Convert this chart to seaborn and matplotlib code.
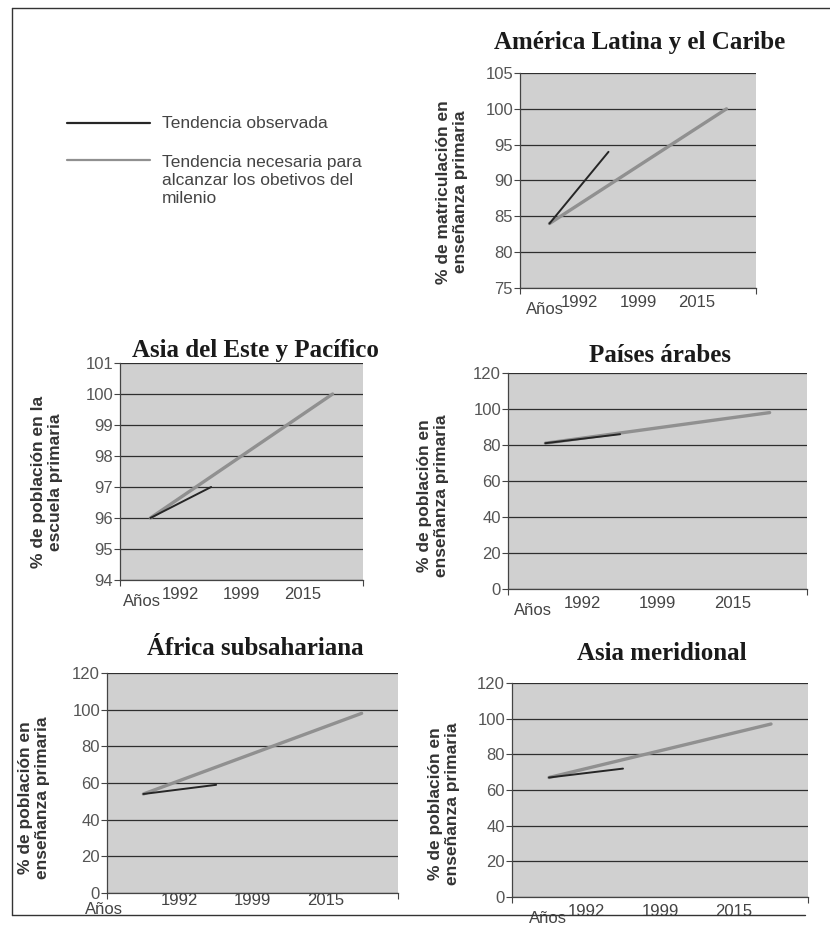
#!/usr/bin/env python3
# Tendencias de matriculación en enseñanza primaria por región
# Cinco paneles de líneas: tendencia observada vs tendencia necesaria

import pandas as pd
import matplotlib.pyplot as plt
import seaborn as sns

# ============================================================================
# DATOS
# ============================================================================
regiones = ["América Latina y el Caribe", "Asia del Este y Pacífico",
            "Países árabes", "África subsahariana", "Asia meridional"]
etiquetas_y = ["% de matriculación en\nenseñanza primaria",
               "% de población en la\nescuela primaria",
               "% de población en\nenseñanza primaria",
               "% de población en\nenseñanza primaria",
               "% de población en\nenseñanza primaria"]
etiquetas_x = ["Años", "1992", "1999", "2015"]

# posiciones de categoría (0 = primera categoría del eje)
x_observada = [0, 1]
x_necesaria = [0, 3]

observada = [[84, 94], [96, 97], [81, 86], [54, 59], [67, 72]]
necesaria = [[84, 100], [96, 100], [81, 98], [54, 98], [67, 97]]

y_min = [75, 94, 0, 0, 0]
y_max = [105, 101, 120, 120, 120]
y_paso = [5, 1, 20, 20, 20]

# ============================================================================
# ESTILO
# ============================================================================
sns.set_theme(style="white")
plt.rcParams['font.family'] = ['Liberation Sans', 'DejaVu Sans']

W, H = 830, 947
fondo = '#d0d0d0'
c_obs = '#262626'
c_nec = '#909090'

# rectángulos de los ejes en píxeles: izquierda, arriba, derecha, abajo
rects = [(520, 73, 756, 288), (120, 363, 363, 580), (508, 373, 807, 589),
         (107, 673, 398, 893), (512, 683, 808, 897)]
titulo_xy = [(640, 43), (255, 350), (660, 355), (255, 648), (662, 653)]
ylab_xy = [(452, 192), (47, 482), (433, 496), (34, 798), (444, 804)]
anos_x = [-0.08, -0.14, -0.17, -0.54, -0.02]

fig = plt.figure(figsize=(W / 100, H / 100), dpi=100)

# marco de la página
marco = dict(color='#333333', lw=1.0, transform=fig.transFigure)
fig.add_artist(plt.Line2D([12 / W, 830 / W], [1 - 8 / H, 1 - 8 / H], **marco))
fig.add_artist(plt.Line2D([12 / W, 12 / W], [1 - 8 / H, 1 - 915 / H], **marco))
fig.add_artist(plt.Line2D([12 / W, 805 / W], [1 - 915 / H, 1 - 915 / H], **marco))

for i, region in enumerate(regiones):
    l, t, r, b = rects[i]
    ax = fig.add_axes([l / W, 1 - b / H, (r - l) / W, (b - t) / H])
    ax.set_facecolor(fondo)

    df_nec = pd.DataFrame({'x': x_necesaria, 'y': necesaria[i]})
    df_obs = pd.DataFrame({'x': x_observada, 'y': observada[i]})
    sns.lineplot(data=df_nec, x='x', y='y', color=c_nec, lw=2.4, ax=ax, zorder=3)
    sns.lineplot(data=df_obs, x='x', y='y', color=c_obs, lw=1.4, ax=ax, zorder=4)

    ax.set_xlim(-0.5, 3.5)
    ax.set_ylim(y_min[i], y_max[i])
    ticks_y = list(range(y_min[i], y_max[i] + 1, y_paso[i]))
    ax.set_yticks(ticks_y)
    ax.yaxis.grid(True, color='#2e2e2e', lw=0.9)
    ax.xaxis.grid(False)
    ax.tick_params(axis='y', which='major', direction='out', length=4,
                   width=0.8, color='#444444', labelsize=12,
                   labelcolor='#555555', pad=1, left=True)

    ax.set_xticks([0.5, 1.5, 2.5])
    ax.set_xticklabels(etiquetas_x[1:])
    ax.set_xticks([-0.5, 0.5, 1.5, 2.5, 3.5], minor=True)
    ax.tick_params(axis='x', which='major', length=0, labelsize=12,
                   labelcolor='#444444', pad=5 if i != 3 else 0)
    ax.tick_params(axis='x', which='minor', direction='out', length=4,
                   width=0.8, color='#444444', bottom=True)
    ax.text(anos_x[i], -0.1 if i != 3 else -0.075, etiquetas_x[0],
            transform=ax.get_xaxis_transform(), ha='center', va='center',
            fontsize=12, color='#444444')

    ax.set_xlabel("")
    ax.set_ylabel("")
    for s in ['top', 'right']:
        ax.spines[s].set_visible(False)
    for s in ['left', 'bottom']:
        ax.spines[s].set_color('#444444')
        ax.spines[s].set_linewidth(0.9)

    tx, ty = titulo_xy[i]
    fig.text(tx / W, 1 - ty / H, region, ha='center', va='center',
             fontsize=18, fontweight='bold', family='Liberation Serif',
             color='#1a1a1a')
    yx, yy = ylab_xy[i]
    fig.text(yx / W, 1 - yy / H, etiquetas_y[i], ha='center', va='center',
             rotation=90, multialignment='center', fontsize=12.5,
             fontweight='bold', color='#333333', linespacing=1.15)

# leyenda manual
fig.add_artist(plt.Line2D([67 / W, 150 / W], [1 - 123 / H, 1 - 123 / H],
                          color=c_obs, lw=1.6, transform=fig.transFigure))
fig.add_artist(plt.Line2D([67 / W, 150 / W], [1 - 160 / H, 1 - 160 / H],
                          color=c_nec, lw=1.6, transform=fig.transFigure))
fig.text(162 / W, 1 - 123 / H, "Tendencia observada", ha='left', va='center',
         fontsize=12.5, color='#444444')
fig.text(162 / W, 1 - 155 / H,
         "Tendencia necesaria para\nalcanzar los obetivos del\nmilenio",
         ha='left', va='top', fontsize=12.5, color='#444444', linespacing=1.25,
         transform=fig.transFigure)

plt.savefig("out.png", dpi=100)
plt.close()
